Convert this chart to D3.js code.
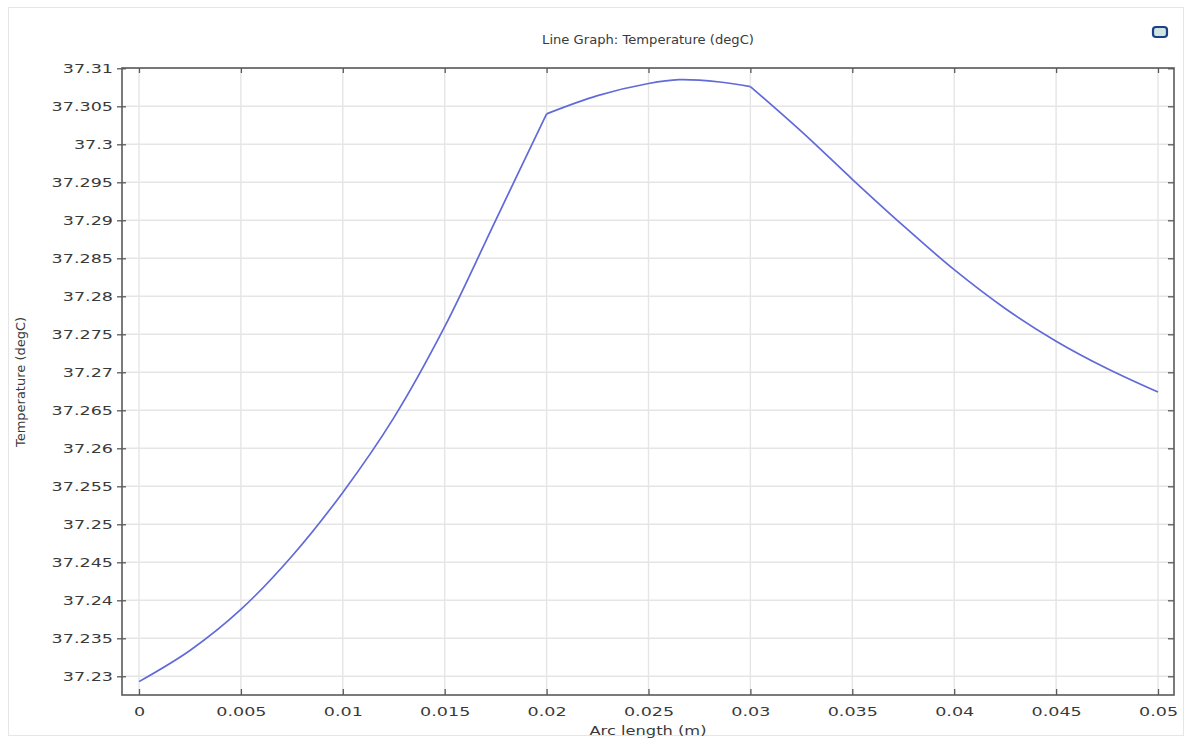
<!DOCTYPE html>
<html>
<head>
<meta charset="utf-8">
<script src="https://cdn.jsdelivr.net/npm/d3@7"></script>
<style>
  body { margin: 0; background: #fff; }
  text { font-family: "DejaVu Sans", Verdana, sans-serif; fill: #3a3a3a; }
</style>
</head>
<body>
<script>
// values
const arcLength = [0, 0.0025, 0.005, 0.0075, 0.01, 0.0125, 0.015, 0.0175, 0.02,
  0.0225, 0.025, 0.0265, 0.0285, 0.03,
  0.0325, 0.035, 0.0375, 0.04, 0.0425, 0.045, 0.0475, 0.05];
const temperature = [37.2293, 37.2334, 37.2388, 37.2458, 37.2542, 37.2640, 37.2760, 37.2900, 37.3040,
  37.3064, 37.3080, 37.3085, 37.3082, 37.3076,
  37.3017, 37.2954, 37.2893, 37.2835, 37.2784, 37.2741, 37.2705, 37.2674];
// kinks of the profile (domain boundaries), the curve is smooth between them
const segmentBreaks = [0.02, 0.03];

const xTicks = [0, 0.005, 0.01, 0.015, 0.02, 0.025, 0.03, 0.035, 0.04, 0.045, 0.05];
const xTickLabels = ["0", "0.005", "0.01", "0.015", "0.02", "0.025", "0.03", "0.035", "0.04", "0.045", "0.05"];
const yTicks = [37.23, 37.235, 37.24, 37.245, 37.25, 37.255, 37.26, 37.265, 37.27,
  37.275, 37.28, 37.285, 37.29, 37.295, 37.3, 37.305, 37.31];
const yTickLabels = ["37.23", "37.235", "37.24", "37.245", "37.25", "37.255", "37.26", "37.265", "37.27",
  "37.275", "37.28", "37.285", "37.29", "37.295", "37.3", "37.305", "37.31"];

const W = 1190, H = 742;
const plot = { left: 122, right: 1174, top: 68, bottom: 695 };

const svg = d3.select("body").append("svg")
  .attr("width", W)
  .attr("height", H);

// panel frame
svg.append("rect")
  .attr("x", 8.5).attr("y", 7.5)
  .attr("width", 1175).attr("height", 728)
  .attr("fill", "#fff")
  .attr("stroke", "#e6e6e6");

const x = d3.scaleLinear().domain([-0.000834, 0.050785]).range([plot.left, plot.right]);
const y = d3.scaleLinear().domain([37.22754, 37.31004]).range([plot.bottom, plot.top]);

// stretched text (the screenshot is wider than tall)
function stretch(sel, k) {
  sel.each(function () {
    const len = this.getComputedTextLength();
    d3.select(this).attr("textLength", len * k).attr("lengthAdjust", "spacingAndGlyphs");
  });
}

// grid
const grid = svg.append("g").attr("stroke", "#e5e5e5").attr("stroke-width", 1.4);
grid.selectAll(".gx").data(xTicks).join("line")
  .attr("x1", d => x(d)).attr("x2", d => x(d))
  .attr("y1", plot.top).attr("y2", plot.bottom);
grid.selectAll(".gy").data(yTicks).join("line")
  .attr("x1", plot.left).attr("x2", plot.right)
  .attr("y1", d => y(d)).attr("y2", d => y(d));

// line, drawn piecewise so the kinks stay sharp
const pts = arcLength.map((a, i) => [a, temperature[i]]);
const bounds = [arcLength[0], ...segmentBreaks, arcLength[arcLength.length - 1]];
const line = d3.line().x(d => x(d[0])).y(d => y(d[1])).curve(d3.curveCatmullRom.alpha(0.5));
for (let i = 0; i < bounds.length - 1; i++) {
  const seg = pts.filter(p => p[0] >= bounds[i] && p[0] <= bounds[i + 1]);
  svg.append("path")
    .attr("d", line(seg))
    .attr("fill", "none")
    .attr("stroke", "#606ad8")
    .attr("stroke-width", 1.7)
    .attr("stroke-linejoin", "round");
}

// axes with ticks crossing/inside the frame
const axisColor = "#5a5a5a";
const gB = svg.append("g").attr("transform", `translate(0,${plot.bottom})`)
  .call(d3.axisBottom(x).tickValues(xTicks).tickSize(-6).tickSizeOuter(0).tickPadding(12)
    .tickFormat((d, i) => xTickLabels[i]));
const gT = svg.append("g").attr("transform", `translate(0,${plot.top})`)
  .call(d3.axisTop(x).tickValues(xTicks).tickSize(-5).tickSizeOuter(0).tickFormat(""));
const gL = svg.append("g").attr("transform", `translate(${plot.left},0)`)
  .call(d3.axisLeft(y).tickValues(yTicks).tickSize(5).tickSizeOuter(0).tickPadding(4)
    .tickFormat((d, i) => yTickLabels[i]));
const gR = svg.append("g").attr("transform", `translate(${plot.right},0)`)
  .call(d3.axisRight(y).tickValues(yTicks).tickSize(-6).tickSizeOuter(0).tickFormat(""));

[gB, gT, gL, gR].forEach(g => {
  g.select(".domain").remove();
  g.selectAll(".tick line").attr("stroke", axisColor).attr("stroke-width", 1.3);
});
gL.selectAll(".tick line").attr("x2", 4).attr("x1", -5);

svg.selectAll(".tick text")
  .attr("fill", "#3e3e3e")
  .style("font-size", "13px")
  .call(stretch, 1.35);

// frame
svg.append("rect")
  .attr("x", plot.left).attr("y", plot.top)
  .attr("width", plot.right - plot.left).attr("height", plot.bottom - plot.top)
  .attr("fill", "none")
  .attr("stroke", axisColor)
  .attr("stroke-width", 1.6);

// title & labels
svg.append("text")
  .attr("x", 648).attr("y", 44)
  .attr("text-anchor", "middle")
  .style("font-size", "12.5px")
  .text("Line Graph: Temperature (degC)")
  .call(stretch, 1.05);

svg.append("text")
  .attr("x", 648).attr("y", 735)
  .attr("text-anchor", "middle")
  .style("font-size", "12.5px")
  .text("Arc length (m)")
  .call(stretch, 1.3);

svg.append("text")
  .attr("transform", "translate(25,382) rotate(-90)")
  .attr("text-anchor", "middle")
  .style("font-size", "13px")
  .text("Temperature (degC)");

// small toolbar icon at top right
svg.append("rect")
  .attr("x", 1153).attr("y", 27)
  .attr("width", 14).attr("height", 10).attr("rx", 3)
  .attr("fill", "#cfe6e0")
  .attr("stroke", "#1d3f8a")
  .attr("stroke-width", 2.2);
</script>
</body>
</html>
